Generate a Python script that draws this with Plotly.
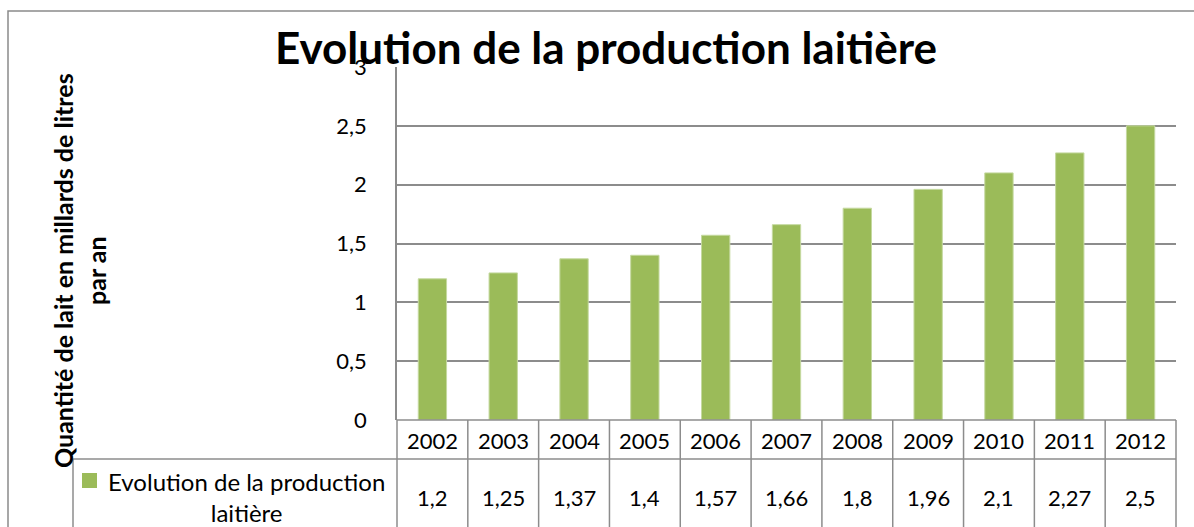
import plotly.graph_objects as go

years = ["2002", "2003", "2004", "2005", "2006", "2007", "2008", "2009", "2010", "2011", "2012"]
production = [1.2, 1.25, 1.37, 1.4, 1.57, 1.66, 1.8, 1.96, 2.1, 2.27, 2.5]
series_name = "Evolution de la production<br>laitière"
title = "Evolution de la production laitière"
y_title = "Quantité de lait en millards de litres<br>par an"

FONT = "Lato"
GREEN = "#9bbb59"
GRID = "#8c8c8c"

# pixel geometry of the plot area
W, H = 1194, 527
left, right, top, bottom = 397, 1176, 67, 420
ph = bottom - top
pw = right - left


def py(p):
    # pixel y -> paper y
    return (bottom - p) / ph


def px(p):
    # pixel x -> paper x
    return (p - left) / pw


xs = list(range(len(years)))

fig = go.Figure()
fig.add_trace(go.Bar(x=xs, y=production, marker_color=GREEN,
                     marker_line=dict(color="#c5d9a0", width=1),
                     width=0.4, name=title, showlegend=False))

shapes = []
line = dict(color=GRID, width=1.5)
# outer chart border (right and bottom run off the page)
shapes.append(dict(type="rect", xref="paper", yref="paper", x0=px(8), x1=px(1230),
                   y0=py(11), y1=py(600), line=dict(color="#8a8a8a", width=1.5)))
# table: vertical lines
n = len(years)
for i in range(n + 1):
    shapes.append(dict(type="line", xref="paper", yref="paper", x0=i / n, x1=i / n,
                       y0=0, y1=py(540), line=line))
# table: horizontal lines
shapes.append(dict(type="line", xref="paper", yref="paper", x0=0, x1=1, y0=0, y1=0, line=line))
shapes.append(dict(type="line", xref="paper", yref="paper", x0=px(73), x1=1,
                   y0=py(459), y1=py(459), line=line))
# legend cell left border
shapes.append(dict(type="line", xref="paper", yref="paper", x0=px(73), x1=px(73),
                   y0=py(459), y1=py(540), line=line))
# legend key
shapes.append(dict(type="rect", xref="paper", yref="paper", x0=px(82), x1=px(97),
                   y0=py(473), y1=py(488), fillcolor=GREEN, line=dict(width=0)))

txt = dict(family=FONT, size=22, color="black")
annotations = []
for i, (yr, v) in enumerate(zip(years, production)):
    annotations.append(dict(x=i, xref="x", y=py(440), yref="paper", text=yr,
                            showarrow=False, font=txt,
                            xanchor="center", yanchor="middle"))
    annotations.append(dict(x=i, xref="x", y=py(498), yref="paper",
                            text=f"{v:g}".replace(".", ","),
                            showarrow=False, font=txt,
                            xanchor="center", yanchor="middle"))
annotations.append(dict(x=px(246), xref="paper", y=py(497), yref="paper",
                        text=series_name, align="center",
                        showarrow=False, font=dict(family=FONT, size=24, color="black"),
                        xanchor="center", yanchor="middle"))
annotations.append(dict(x=px(79), xref="paper", y=py(271), yref="paper", text=y_title,
                        textangle=-90, align="center", showarrow=False,
                        font=dict(family=FONT, size=25, color="black", weight="bold"),
                        xanchor="center", yanchor="middle"))
annotations.append(dict(x=px(606), xref="paper", y=py(47), yref="paper", text=title,
                        showarrow=False, font=dict(family=FONT, size=44, color="black", weight="bold"),
                        xanchor="center", yanchor="middle"))

fig.update_layout(
    width=W, height=H,
    margin=dict(l=left, r=W - right, t=top, b=H - bottom),
    plot_bgcolor="white", paper_bgcolor="white",
    separators=", ",
    bargap=0.6,
    shapes=shapes,
    annotations=annotations,
    font=txt,
)
fig.update_xaxes(range=[-0.5, n - 0.5], showticklabels=False, showgrid=False,
                 zeroline=False, showline=False, ticks="")
fig.update_yaxes(range=[0, 3], dtick=0.5, showgrid=True, gridcolor=GRID, gridwidth=1.5,
                 zeroline=False, showline=True, linecolor=GRID, linewidth=1.5,
                 ticks="", ticklabelstandoff=24, tickfont=txt)

fig.write_html("out.html", config={"displayModeBar": False},
               post_script="document.body.style.margin='0px';")
